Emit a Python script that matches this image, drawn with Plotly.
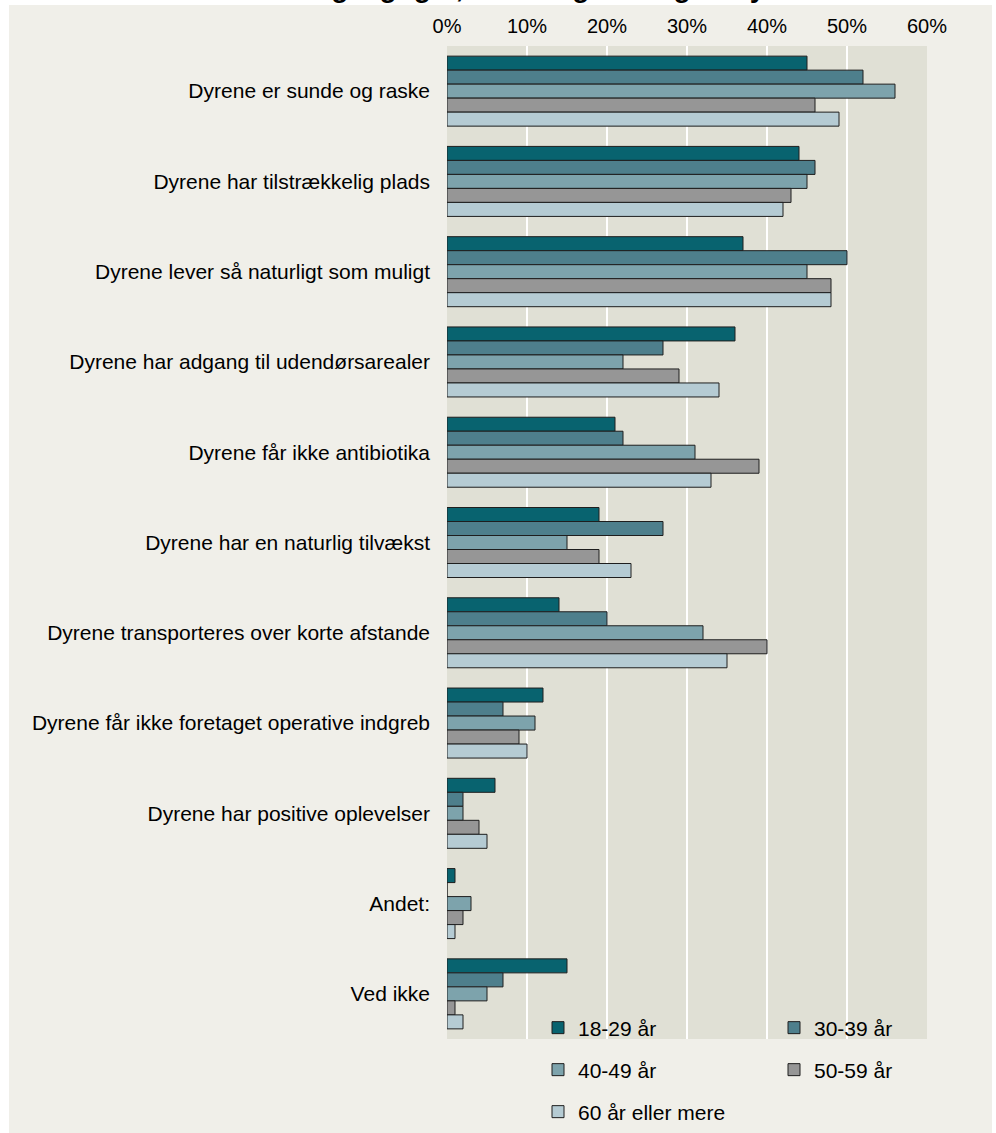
import plotly.graph_objects as go

categories = [
    "Dyrene er sunde og raske",
    "Dyrene har tilstrækkelig plads",
    "Dyrene lever så naturligt som muligt",
    "Dyrene har adgang til udendørsarealer",
    "Dyrene får ikke antibiotika",
    "Dyrene har en naturlig tilvækst",
    "Dyrene transporteres over korte afstande",
    "Dyrene får ikke foretaget operative indgreb",
    "Dyrene har positive oplevelser",
    "Andet:",
    "Ved ikke",
]

series_names = ["18-29 år", "30-39 år", "40-49 år", "50-59 år", "60 år eller mere"]

age_18_29 = [45, 44, 37, 36, 21, 19, 14, 12, 6, 1, 15]
age_30_39 = [52, 46, 50, 27, 22, 27, 20, 7, 2, 0, 7]
age_40_49 = [56, 45, 45, 22, 31, 15, 32, 11, 2, 3, 5]
age_50_59 = [46, 43, 48, 29, 39, 19, 40, 9, 4, 2, 1]
age_60_plus = [49, 42, 48, 34, 33, 23, 35, 10, 5, 1, 2]

x_ticks = [0, 10, 20, 30, 40, 50, 60]
x_tick_labels = ["0%", "10%", "20%", "30%", "40%", "50%", "60%"]

title_text = "Hvad er efter din mening vigtigst, når det gælder god dyrevelfærd?"

series_values = [age_18_29, age_30_39, age_40_49, age_50_59, age_60_plus]
colors = ["#08636F", "#4E7F8C", "#7DA3AC", "#969696", "#B5CBD3"]
legend_ids = ["legend", "legend2", "legend3", "legend4", "legend5"]

FONT = "Liberation Sans, Arial, sans-serif"
W, H = 996, 1133
L, R, T, B = 447, 69, 46, 94
PW = W - L - R
PH = H - T - B


def px_x(p):
    return (p - L) / PW


def px_y(p):
    return (H - B - p) / PH


fig = go.Figure()
for name, vals, col, lg in zip(series_names, series_values, colors, legend_ids):
    fig.add_trace(go.Bar(
        y=categories, x=vals, name=name, orientation="h",
        marker=dict(color=col, line=dict(color="#1E1E1E", width=1)),
        legend=lg,
    ))


def legend_at(xp, yp):
    return dict(
        x=px_x(xp), y=px_y(yp), xanchor="left", yanchor="middle",
        orientation="h", bgcolor="rgba(0,0,0,0)",
        font=dict(family=FONT, size=21, color="#000"),
        itemclick=False, itemdoubleclick=False,
    )


col1, col2 = 538, 774
row1, row2, row3 = 1028, 1070, 1112

fig.update_layout(
    width=W, height=H,
    margin=dict(l=L, r=R, t=T, b=B, pad=0, autoexpand=False),
    paper_bgcolor="#F0EFE9",
    plot_bgcolor="#E0E0D5",
    barmode="group",
    bargap=0.2245,
    bargroupgap=0,
    font=dict(family=FONT, size=20, color="#000"),
    showlegend=True,
    legend=legend_at(col1, row1),
    legend2=legend_at(col2, row1),
    legend3=legend_at(col1, row2),
    legend4=legend_at(col2, row2),
    legend5=legend_at(col1, row3),
    xaxis=dict(
        side="top", range=[0, 60], tickvals=x_ticks, ticktext=x_tick_labels,
        showgrid=True, gridcolor="#FFFFFF", gridwidth=1.6, zeroline=False,
        showline=False, ticks="", ticklabelstandoff=8,
        tickfont=dict(family=FONT, size=20, color="#000"),
    ),
    yaxis=dict(
        categoryorder="array", categoryarray=categories, autorange="reversed",
        showgrid=False, zeroline=False, showline=False, ticks="",
        ticklabelstandoff=16,
        tickfont=dict(family=FONT, size=21, color="#000"),
    ),
    shapes=[
        dict(type="rect", xref="paper", yref="paper", layer="above",
             x0=px_x(-5), x1=px_x(9), y0=px_y(H + 5), y1=px_y(-5),
             fillcolor="#FFFFFF", line=dict(width=0)),
        dict(type="rect", xref="paper", yref="paper", layer="above",
             x0=px_x(992), x1=px_x(W + 5), y0=px_y(H + 5), y1=px_y(-5),
             fillcolor="#FFFFFF", line=dict(width=0)),
        dict(type="rect", xref="paper", yref="paper", layer="above",
             x0=px_x(-5), x1=px_x(W + 5), y0=px_y(5), y1=px_y(-5),
             fillcolor="#FFFFFF", line=dict(width=0)),
    ],
    annotations=[
        dict(text="<b>" + title_text + "</b>", xref="paper", yref="paper",
             x=px_x(465), y=px_y(-12), xanchor="center", yanchor="middle",
             showarrow=False, font=dict(family=FONT, size=28, color="#000")),
    ],
)

fig.write_html(
    "out.html",
    config={"displayModeBar": False},
    post_script="document.body.style.margin='0px';document.body.style.overflow='hidden';",
)
